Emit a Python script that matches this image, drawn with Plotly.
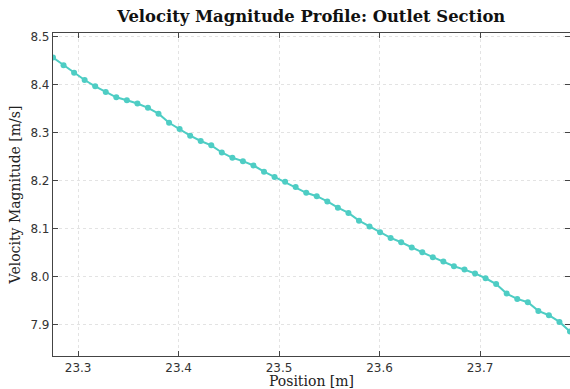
import plotly.graph_objects as go

position_m = [
    23.2750, 23.2855, 23.2960, 23.3065, 23.3170, 23.3275, 23.3380, 23.3485, 23.3590, 23.3695,
    23.3800, 23.3905, 23.4010, 23.4115, 23.4220, 23.4325, 23.4430, 23.4535, 23.4640, 23.4745,
    23.4850, 23.4955, 23.5060, 23.5165, 23.5270, 23.5375, 23.5480, 23.5585, 23.5690, 23.5795,
    23.5900, 23.6005, 23.6110, 23.6215, 23.6320, 23.6425, 23.6530, 23.6635, 23.6740, 23.6845,
    23.6950, 23.7055, 23.7160, 23.7265, 23.7370, 23.7475, 23.7580, 23.7685, 23.7790, 23.7895,
]

velocity_ms = [
    8.457, 8.441, 8.425, 8.410, 8.397, 8.385, 8.374, 8.368, 8.361, 8.352,
    8.340, 8.321, 8.308, 8.294, 8.283, 8.274, 8.259, 8.248, 8.241, 8.232,
    8.219, 8.208, 8.198, 8.187, 8.175, 8.168, 8.157, 8.144, 8.133, 8.117,
    8.105, 8.093, 8.081, 8.072, 8.061, 8.051, 8.041, 8.032, 8.022, 8.015,
    8.007, 7.997, 7.985, 7.965, 7.954, 7.947, 7.929, 7.920, 7.906, 7.886,
]

x_ticks = [23.3, 23.4, 23.5, 23.6, 23.7]
y_ticks = [7.9, 8.0, 8.1, 8.2, 8.3, 8.4, 8.5]

color = "#4ECDC4"

fig = go.Figure(
    go.Scatter(
        x=position_m,
        y=velocity_ms,
        mode="lines+markers",
        line=dict(color=color, width=2),
        marker=dict(color=color, size=6),
        showlegend=False,
    )
)

axis_common = dict(
    showline=True,
    linecolor="#444444",
    linewidth=1.2,
    mirror="ticks",
    ticks="inside",
    ticklen=5,
    tickwidth=1,
    tickcolor="#444444",
    showgrid=True,
    gridcolor="#e3e3e3",
    griddash="dot",
    gridwidth=1,
    zeroline=False,
    tickfont=dict(family="DejaVu Sans", size=12, color="#333333"),
)

fig.update_xaxes(
    range=[position_m[0], position_m[-1]],
    tickvals=x_ticks,
    ticktext=[f"{v:.1f}" for v in x_ticks],
    title=dict(text="Position [m]", font=dict(family="DejaVu Serif", size=14, color="#222222"), standoff=4),
    **axis_common,
)
fig.update_yaxes(
    range=[7.835, 8.508],
    tickvals=y_ticks,
    ticktext=[f"{v:.1f}" for v in y_ticks],
    title=dict(text="Velocity Magnitude [m/s]", font=dict(family="DejaVu Serif", size=14, color="#222222"), standoff=6),
    **axis_common,
)

fig.update_layout(
    width=570,
    height=389,
    margin=dict(l=53, r=0, t=33, b=33),
    paper_bgcolor="white",
    plot_bgcolor="white",
    title=dict(
        text="<b>Velocity Magnitude Profile: Outlet Section</b>",
        font=dict(family="DejaVu Serif", size=16.4, color="#111111"),
        x=0.546,
        xanchor="center",
        y=0.972,
        yanchor="top",
    ),
)

fig.write_html("out.html")
